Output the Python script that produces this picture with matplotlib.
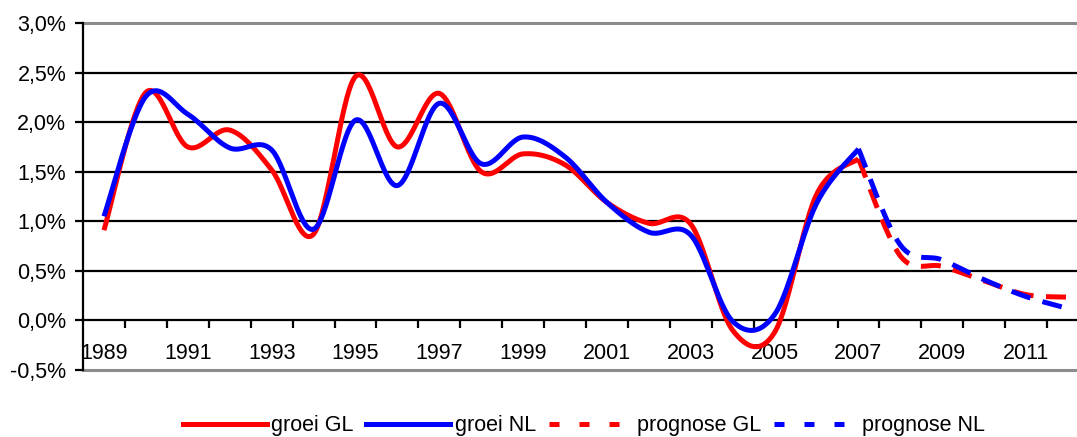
import matplotlib
matplotlib.use('Agg')
import matplotlib.pyplot as plt
from matplotlib.lines import Line2D
import numpy as np

plt.rcParams['font.family'] = ['Liberation Sans', 'DejaVu Sans']

# jaren en groeicijfers (%)
years = list(range(1989, 2013))
groei_gl = [0.91, 2.30, 1.75, 1.92, 1.52, 0.87, 2.46, 1.75, 2.29, 1.50,
            1.68, 1.57, 1.19, 0.98, 0.97, -0.10, -0.12, 1.27, 1.63]
groei_nl = [1.05, 2.26, 2.08, 1.74, 1.72, 0.92, 2.02, 1.36, 2.19, 1.58,
            1.85, 1.65, 1.19, 0.89, 0.86, -0.01, 0.06, 1.18, 1.73]
# prognoses beginnen in 2007
prog_years = list(range(2007, 2013))
prognose_gl = [1.63, 0.65, 0.545, 0.40, 0.26, 0.235]
prognose_nl = [1.73, 0.76, 0.61, 0.41, 0.24, 0.12]
label_years = list(range(1989, 2012, 2))


def smooth(xs, ys, n=30):
    # Catmull-Rom, zoals de 'vloeiende lijn' van Excel
    xs = np.asarray(xs, float)
    ys = np.asarray(ys, float)
    px = np.concatenate([[xs[0]], xs, [xs[-1]]])
    py = np.concatenate([[ys[0]], ys, [ys[-1]]])
    ox, oy = [], []
    t = np.linspace(0, 1, n, endpoint=False)
    for i in range(1, len(px) - 2):
        for p, out in ((px, ox), (py, oy)):
            p0, p1, p2, p3 = p[i - 1], p[i], p[i + 1], p[i + 2]
            m1 = (p2 - p0) / 2
            m2 = (p3 - p1) / 2
            h00 = 2 * t**3 - 3 * t**2 + 1
            h10 = t**3 - 2 * t**2 + t
            h01 = -2 * t**3 + 3 * t**2
            h11 = t**3 - t**2
            out.extend(h00 * p1 + h10 * m1 + h01 * p2 + h11 * m2)
    ox.append(xs[-1])
    oy.append(ys[-1])
    return np.array(ox), np.array(oy)


def pos(yrs):
    return [y - years[0] + 0.5 for y in yrs]


fig = plt.figure(figsize=(10.77, 4.37), dpi=100)
ax = fig.add_axes([83 / 1077, 67 / 437, 1006 / 1077, 347 / 437])

ax.set_ylim(-0.5, 3.0)
ax.set_xlim(0, len(years))

for v in [0.5, 1.0, 1.5, 2.0, 2.5]:
    ax.axhline(v, color='black', lw=1.6, zorder=1)
ax.axhline(3.0, color='#8c8c8c', lw=2.2, zorder=1, clip_on=False)
ax.axhline(-0.5, color='#8c8c8c', lw=2.2, zorder=1, clip_on=False)

lw = 3.6
red = '#ff0000'
blue = '#0000ff'
x, y = smooth(pos(years[:len(groei_gl)]), groei_gl)
ax.plot(x, y, color=red, lw=lw, solid_capstyle='butt', zorder=3)
x, y = smooth(pos(years[:len(groei_nl)]), groei_nl)
ax.plot(x, y, color=blue, lw=lw, solid_capstyle='butt', zorder=4)
x, y = smooth(pos(prog_years), prognose_gl)
ax.plot(x, y, color=red, lw=lw, dashes=(4, 2.5), dash_capstyle='butt', zorder=3)
x, y = smooth(pos(prog_years), prognose_nl)
ax.plot(x, y, color=blue, lw=lw, dashes=(4, 2.5), dash_capstyle='butt', zorder=4)

for s in ['top', 'right']:
    ax.spines[s].set_visible(False)
ax.spines['left'].set_linewidth(1.6)
ax.spines['bottom'].set_position(('data', 0))
ax.spines['bottom'].set_linewidth(1.6)

fs = 15.5
yt = np.arange(-0.5, 3.01, 0.5)
ax.set_yticks(yt)
ax.set_yticklabels([f'{v:.1f}%'.replace('.', ',') for v in yt], fontsize=fs)
ax.tick_params(axis='y', length=6, width=1.6, pad=6)

ax.set_xticks(range(1, len(years)))
ax.set_xticklabels([])
ax.tick_params(axis='x', which='major', length=6, width=1.6, direction='out')
ax.set_xticks(pos(label_years), minor=True)
ax.set_xticklabels([str(y) for y in label_years], minor=True, fontsize=fs)
ax.tick_params(axis='x', which='minor', length=0, pad=16.5)

handles = [
    Line2D([], [], color=red, lw=lw),
    Line2D([], [], color=blue, lw=lw),
    Line2D([], [], color=red, lw=lw, dashes=(2, 4), dash_capstyle='butt'),
    Line2D([], [], color=blue, lw=lw, dashes=(2, 4), dash_capstyle='butt'),
]
labels = ['groei GL', 'groei NL', 'prognose GL', 'prognose NL']
fig.legend(handles, labels, loc='center', bbox_to_anchor=(584 / 1077, 1 - 426 / 437),
           ncol=4, frameon=False, fontsize=fs, handlelength=3.9,
           handletextpad=0.2, columnspacing=0.6, borderaxespad=0)

plt.savefig('out.png', dpi=100)
